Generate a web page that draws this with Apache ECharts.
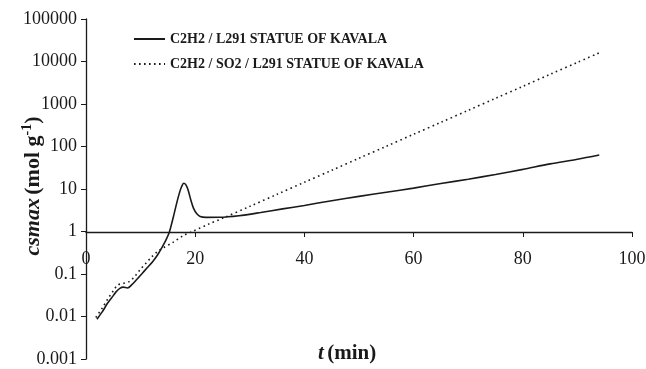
<!DOCTYPE html>
<html>
<head>
<meta charset="utf-8">
<script src="https://cdn.jsdelivr.net/npm/echarts@6/dist/echarts.min.js"></script>
<style>
  html, body { margin: 0; padding: 0; background: #fff; }
  #chart { width: 646px; height: 369px; }
</style>
</head>
<body>
<div id="chart"></div>
<script>
// C2H2 / L291 STATUE OF KAVALA (solid)
var solidT = [2.0, 3, 4, 5, 5.5, 6.2, 6.8, 7.6, 8.4, 9.2, 10.2, 11.2, 12.2, 13.1, 14.0, 14.7, 15.3,
  16.0, 16.6, 17.1, 17.5, 17.9, 18.3, 18.7, 19.2, 19.7, 20.3, 20.9, 22, 24.5, 28, 32, 36, 40,
  45, 50, 55, 60, 65, 70, 75, 80, 85, 90, 94];
var solidC = [0.0086, 0.013, 0.021, 0.031, 0.038, 0.046, 0.049, 0.047, 0.056, 0.072, 0.10, 0.14,
  0.195, 0.28, 0.44, 0.65, 1.0, 2.2, 4.6, 8.0, 11.3, 13.6, 12.5, 9.5, 5.5, 3.5, 2.6, 2.25, 2.15,
  2.16, 2.35, 2.8, 3.4, 4.1, 5.3, 6.7, 8.4, 10.5, 13.5, 17, 22, 29, 39, 50, 63];

// C2H2 / SO2 / L291 STATUE OF KAVALA (dotted)
var dotT = [1.8, 3, 4, 5, 5.8, 6.8, 7.9, 9, 10, 11, 12, 13, 14.1, 15.9, 17.8, 19.5, 22.5, 25, 30,
  35, 40, 45, 50, 55, 60, 65, 70, 75, 80, 85, 90, 94];
var dotC = [0.0095, 0.016, 0.026, 0.040, 0.055, 0.060, 0.066, 0.09, 0.13, 0.18, 0.25, 0.33, 0.41,
  0.55, 0.8, 1.0, 1.5, 2.04, 3.9, 7.5, 14.4, 27.5, 53, 101, 194, 370, 710, 1360, 2600, 5000, 9500, 16000];

var seriesNames = ['C2H2 / L291 STATUE OF KAVALA', 'C2H2 / SO2 / L291 STATUE OF KAVALA'];
var yTickLabels = ['0.001', '0.01', '0.1', '1', '10', '100', '1000', '10000', '100000'];
var xTickLabels = ['0', '20', '40', '60', '80', '100'];

function pairs(xs, ys) {
  var out = [];
  for (var i = 0; i < xs.length; i++) out.push([xs[i], ys[i]]);
  return out;
}

var serif = 'Liberation Serif, Times New Roman, serif';
var ink = '#1a1a1a';

var myChart = echarts.init(document.getElementById('chart'));

var option = {
  animation: false,
  backgroundColor: '#fff',
  grid: { left: 86, right: 14, top: 19, bottom: 10, containLabel: false, outerBoundsMode: 'none' },
  legend: {
    orient: 'vertical',
    left: 128,
    top: 27,
    itemWidth: 31,
    itemHeight: 14,
    itemGap: 11,
    itemStyle: { color: 'rgba(0,0,0,0)', borderWidth: 0 },
    textStyle: { fontFamily: serif, fontWeight: 'bold', fontSize: 14, color: ink },
    data: seriesNames
  },
  xAxis: {
    type: 'value',
    min: 0,
    max: 100,
    interval: 20,
    position: 'bottom',
    offset: -127,
    axisLine: { onZero: false, lineStyle: { color: ink, width: 1.3 } },
    axisTick: { show: true, inside: false, length: 5, lineStyle: { color: ink } },
    splitLine: { show: false },
    axisLabel: {
      margin: 18,
      fontFamily: serif,
      fontSize: 18,
      color: ink,
      formatter: function (v) { return xTickLabels[Math.round(v / 20)]; }
    }
  },
  yAxis: {
    type: 'log',
    logBase: 10,
    min: 0.001,
    max: 100000,
    axisLine: { show: true, lineStyle: { color: ink, width: 1.3 } },
    axisTick: { show: true, inside: false, length: 5, lineStyle: { color: ink } },
    splitLine: { show: false },
    minorTick: { show: false },
    axisLabel: {
      margin: 9,
      fontFamily: serif,
      fontSize: 18,
      color: ink,
      formatter: function (v) { return yTickLabels[Math.round(Math.log10(v)) + 3]; }
    }
  },
  graphic: [
    {
      // y axis title, rotated
      type: 'text',
      x: 33,
      y: 186,
      rotation: Math.PI / 2,
      style: {
        text: '{i|csmax} {b|(mol g}{s|-1}{b|)}',
        align: 'center',
        verticalAlign: 'middle',
        rich: {
          i: { fontFamily: serif, fontSize: 22, fontWeight: 'bold', fontStyle: 'italic', fill: ink },
          b: { fontFamily: serif, fontSize: 22, fontWeight: 'bold', fill: ink },
          s: { fontFamily: serif, fontSize: 14, fontWeight: 'bold', fill: ink, verticalAlign: 'top', padding: [0, 0, 11, 0] }
        }
      }
    },
    {
      type: 'text',
      left: 318,
      top: 343,
      style: {
        text: '{i|t} {b|(min)}',
        rich: {
          i: { fontFamily: serif, fontSize: 21, fontWeight: 'bold', fontStyle: 'italic', fill: ink },
          b: { fontFamily: serif, fontSize: 21, fontWeight: 'bold', fill: ink }
        }
      }
    }
  ],
  series: [
    {
      name: seriesNames[0],
      type: 'line',
      data: pairs(solidT, solidC),
      symbol: 'none',
      smooth: 0.3,
      lineStyle: { color: ink, width: 1.6, type: 'solid' },
      itemStyle: { color: ink }
    },
    {
      name: seriesNames[1],
      type: 'line',
      data: pairs(dotT, dotC),
      symbol: 'none',
      smooth: 0.3,
      lineStyle: { color: ink, width: 1.6, type: [1.6, 3.4] },
      itemStyle: { color: ink }
    }
  ]
};

myChart.setOption(option);
</script>
</body>
</html>
